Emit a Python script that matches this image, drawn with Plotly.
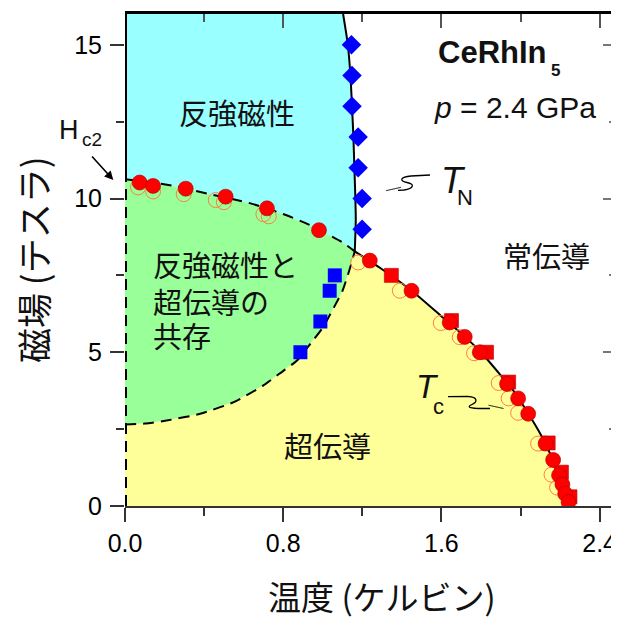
import plotly.graph_objects as go

# ---------------- data ----------------
# Hc2 points (filled red circles) on the AFM/AFM+SC boundary
hc2_T = [0.074, 0.142, 0.307, 0.509, 0.718, 0.981]
hc2_H = [10.52, 10.41, 10.32, 10.06, 9.68, 8.97]
# Tc points (filled red circles)
tc_T = [1.238, 1.449, 1.642, 1.718, 1.794, 1.932, 1.988, 2.039, 2.127, 2.165, 2.195, 2.212, 2.226, 2.243]
tc_H = [7.98, 7.0, 5.97, 5.5, 5.0, 3.97, 3.5, 3.0, 2.03, 1.5, 1.0, 0.7, 0.4, 0.13]
# red squares
sq_T = [1.347, 1.651, 1.828, 1.94, 2.14, 2.207, 2.25]
sq_H = [7.5, 6.03, 5.0, 4.03, 2.05, 1.1, 0.3]
# orange open circles
op_T = [0.066, 0.142, 0.297, 0.459, 0.50, 0.70, 0.727, 1.179, 1.39, 1.597, 1.693, 1.765, 1.89, 1.94, 1.988, 2.089, 2.157, 2.185]
op_H = [10.36, 10.23, 10.14, 9.95, 9.88, 9.49, 9.42, 7.92, 7.0, 5.95, 5.49, 4.97, 4.0, 3.5, 3.03, 2.03, 1.02, 0.6]
# blue squares
bs_T = [0.887, 0.988, 1.035, 1.061]
bs_H = [5.0, 6.0, 7.0, 7.5]
# blue diamonds (T_N)
dm_T = [1.145, 1.148, 1.148, 1.179, 1.179, 1.199, 1.199]
dm_H = [15, 14, 13, 12, 11, 10, 9]

# phase boundaries
hc2_line_T = [0.0, 0.22, 0.43, 0.63, 0.81, 0.93, 1.10, 1.162]
hc2_line_H = [10.63, 10.44, 10.14, 9.85, 9.47, 9.15, 8.57, 8.28]
tn_line_T = [1.162, 1.167, 1.165, 1.16, 1.155, 1.148, 1.14, 1.127, 1.103]
tn_line_H = [8.28, 9.3, 10.0, 11.0, 12.0, 13.0, 14.0, 15.0, 16.0]
sa_line_T = [0.0, 0.1, 0.21, 0.38, 0.55, 0.70, 0.78, 0.87, 0.94, 1.0, 1.06, 1.10, 1.136, 1.162]
sa_line_H = [2.65, 2.68, 2.78, 3.0, 3.38, 3.92, 4.3, 4.73, 5.3, 5.8, 6.5, 7.0, 7.7, 8.28]
tc_line_T = [1.162, 1.30, 1.45, 1.60, 1.72, 1.80, 1.90, 1.97, 2.04, 2.10, 2.15, 2.19, 2.235, 2.27]
tc_line_H = [8.28, 7.7, 7.0, 6.17, 5.5, 5.0, 4.25, 3.7, 3.0, 2.35, 1.7, 1.1, 0.5, 0.0]

x_ticks = [0.0, 0.8, 1.6, 2.4]
x_ticktext = ["0.0", "0.8", "1.6", "2.4"]
y_ticks = [0, 5, 10, 15]

# ---------------- figure ----------------
OFF = 8  # page body margin
W, H = 619 - OFF, 618 - OFF
ML, MR, MT, MB = 125 - OFF, 2, 14 - OFF, 112
PW, PH = W - ML - MR, H - MT - MB


def pp(xp, yp):
    """window pixel position -> paper coordinates (layout placement only)"""
    return (xp - OFF - ML) / PW, (H - MB - (yp - OFF)) / PH


CYAN = "#99FFFF"
GREEN = "#99FF99"
YELLOW = "#FFFF99"

fig = go.Figure()

# region fills
cy_T = [0.0] + hc2_line_T + tn_line_T[1:]
cy_H = [16.0] + hc2_line_H + tn_line_H[1:]
fig.add_trace(go.Scatter(x=cy_T, y=cy_H, fill="toself", fillcolor=CYAN, mode="lines",
                         line=dict(width=0), hoverinfo="skip"))
gr_T = hc2_line_T + sa_line_T[::-1][1:]
gr_H = hc2_line_H + sa_line_H[::-1][1:]
fig.add_trace(go.Scatter(x=gr_T, y=gr_H, fill="toself", fillcolor=GREEN, mode="lines",
                         line=dict(width=0), hoverinfo="skip"))
ye_T = [0.0] + sa_line_T + tc_line_T[1:]
ye_H = [0.0] + sa_line_H + tc_line_H[1:]
fig.add_trace(go.Scatter(x=ye_T, y=ye_H, fill="toself", fillcolor=YELLOW, mode="lines",
                         line=dict(width=0), hoverinfo="skip"))

# boundary lines
DASH = "11px,7px"
fig.add_trace(go.Scatter(x=hc2_line_T, y=hc2_line_H, mode="lines",
                         line=dict(color="black", width=2, dash=DASH, shape="spline", smoothing=0.6)))
fig.add_trace(go.Scatter(x=sa_line_T, y=sa_line_H, mode="lines",
                         line=dict(color="black", width=2, dash=DASH, shape="spline", smoothing=0.6)))
fig.add_trace(go.Scatter(x=tn_line_T, y=tn_line_H, mode="lines",
                         line=dict(color="black", width=2, shape="spline", smoothing=0.6)))
fig.add_trace(go.Scatter(x=tc_line_T, y=tc_line_H, mode="lines",
                         line=dict(color="black", width=2, shape="spline", smoothing=0.6)))
# left edge: dashed below Hc2(0), solid above
fig.add_trace(go.Scatter(x=[0, 0], y=[0, hc2_line_H[0]], mode="lines",
                         line=dict(color="black", width=4, dash=DASH)))
fig.add_trace(go.Scatter(x=[0, 0], y=[hc2_line_H[0], 16], mode="lines",
                         line=dict(color="black", width=4)))

# markers
fig.add_trace(go.Scatter(x=op_T, y=op_H, mode="markers",
                         marker=dict(symbol="circle-open", size=15, color="#FF7F3F", line=dict(width=1))))
fig.add_trace(go.Scatter(x=sq_T, y=sq_H, mode="markers",
                         marker=dict(symbol="square", size=14, color="#FF0000",
                                     line=dict(color="#B00000", width=0.6))))
fig.add_trace(go.Scatter(x=hc2_T + tc_T, y=hc2_H + tc_H, mode="markers",
                         marker=dict(symbol="circle", size=15, color="#FF0000",
                                     line=dict(color="#B00000", width=0.6))))
fig.add_trace(go.Scatter(x=bs_T, y=bs_H, mode="markers",
                         marker=dict(symbol="square", size=14, color="#0000FF", line=dict(width=0))))
fig.add_trace(go.Scatter(x=dm_T, y=dm_H, mode="markers",
                         marker=dict(symbol="diamond", size=15, color="#0000FF", line=dict(width=0))))
# dummy trace for the mirrored (top/right) axes
fig.add_trace(go.Scatter(x=[None], y=[None], xaxis="x2", yaxis="y2", mode="markers", showlegend=False))

TICKFONT = dict(family="Liberation Sans, Arial, sans-serif", size=25, color="black")
CJK = "Noto Sans CJK JP, sans-serif"
LAT = "Liberation Sans, Arial, sans-serif"

fig.update_layout(
    width=W, height=H, showlegend=False,
    margin=dict(l=ML, r=MR, t=MT, b=MB),
    paper_bgcolor="white", plot_bgcolor="white",
    xaxis=dict(range=[0, 2.488], tickvals=x_ticks, ticktext=x_ticktext, ticks="outside",
               ticklen=14, tickwidth=1.5, tickcolor="#333", showline=True, linecolor="#333",
               linewidth=1.5, showgrid=False, zeroline=False, tickfont=TICKFONT,
               minor=dict(tick0=0, dtick=0.4, ticks="outside", ticklen=8, tickwidth=1.5,
                          tickcolor="#333", showgrid=False)),
    yaxis=dict(range=[0, 16], tickvals=y_ticks, ticks="outside", ticklen=14, tickwidth=1.5,
               tickcolor="#333", showline=False, showgrid=False, zeroline=False,
               tickfont=TICKFONT, ticklabelstandoff=3,
               minor=dict(tick0=0, dtick=2.5, ticks="outside", ticklen=8, tickwidth=1.5,
                          tickcolor="#333", showgrid=False)),
    xaxis2=dict(overlaying="x", side="top", range=[0, 2.488], tickvals=x_ticks, ticks="inside",
                ticklen=14, tickwidth=1.5, tickcolor="#555", showticklabels=False,
                showline=True, linecolor="black", linewidth=2.5, showgrid=False, zeroline=False,
                minor=dict(tick0=0, dtick=0.4, ticks="inside", ticklen=8, tickwidth=1.5,
                           tickcolor="#555", showgrid=False)),
    yaxis2=dict(overlaying="y", side="right", range=[0, 16], tickvals=y_ticks, ticks="inside",
                ticklen=14, tickwidth=1.5, tickcolor="#777", showticklabels=False,
                showline=True, linecolor="#999", linewidth=1, showgrid=False, zeroline=False,
                minor=dict(tick0=0, dtick=2.5, ticks="inside", ticklen=8, tickwidth=1.5,
                           tickcolor="#777", showgrid=False)),
)


def ann(text, xp, yp, size, family=CJK, xanchor="center", **kw):
    x, y = pp(xp, yp)
    fig.add_annotation(text=text, x=x, y=y, xref="paper", yref="paper", showarrow=False,
                       xanchor=xanchor, yanchor="middle", font=dict(family=family, size=size,
                                                                    color="#111"), **kw)


# axis titles
ann("温度 (ケルビン)", 382, 596, 33)
ann("磁場 (テスラ)", 32, 260, 35, textangle=-90)

# region labels
ann("反強磁性", 237, 112, 29)
ann("反強磁性と", 151, 264, 29, xanchor="left")
ann("超伝導の", 151, 301, 29, xanchor="left")
ann("共存", 151, 335, 29, xanchor="left")
ann("常伝導", 546, 255, 29)
ann("超伝導", 327, 445, 29)

# title-like labels
ann("<b>CeRhIn</b>", 549, 52, 31, family=LAT, xanchor="right")
ann("<b>5</b>", 549, 71, 17, family=LAT, xanchor="left")
ann("<i>p</i> = 2.4 GPa", 515, 108, 30, family=LAT)

ann("<i>T</i>", 453, 180, 36, family=LAT)
ann("N", 465, 197, 22, family=LAT)
ann("<i>T</i>", 427, 387, 33, family=LAT)
ann("c", 438, 406, 22, family=LAT)
ann("H", 69, 130, 27, family=LAT)
ann("c2", 92, 139, 19, family=LAT)

# Hc2 arrow
hx, hy = pp(113.3, 180)
fig.add_annotation(text="", x=hx, y=hy, xref="paper", yref="paper", showarrow=True,
                   ax=-22.6, ay=-25, arrowhead=2, arrowsize=1.1, arrowwidth=1.6, arrowcolor="black")


def path(points, close=False):
    s = ""
    for cmd, pts in points:
        s += cmd + " " + " ".join("%.5f,%.5f" % pp(a, b) for a, b in pts) + " "
    if close:
        s += "Z"
    return s


# T_N squiggle + head
fig.add_shape(type="path", xref="paper", yref="paper", line=dict(color="black", width=1.3),
              path=path([("M", [(430, 175)]), ("L", [(411, 176)]),
                         ("C", [(400, 177), (399, 181), (407, 182.5)]),
                         ("C", [(415, 184), (414, 188.5), (404, 190)]),
                         ("L", [(398, 190.4)])]))
fig.add_shape(type="path", xref="paper", yref="paper", line=dict(color="black", width=0.5),
              fillcolor="black",
              path=path([("M", [(386, 190.7)]), ("L", [(401, 187.3), (401, 193.7)])], close=True))
# T_c squiggle + head
fig.add_shape(type="path", xref="paper", yref="paper", line=dict(color="black", width=1.3),
              path=path([("M", [(448, 396.7)]), ("L", [(468, 396.5)]),
                         ("C", [(478, 397), (478, 402), (471, 405)]),
                         ("C", [(466, 407.5), (472, 408.5), (480, 408.5)]),
                         ("L", [(490, 408.5)])]))
fig.add_shape(type="path", xref="paper", yref="paper", line=dict(color="black", width=0.5),
              fillcolor="black",
              path=path([("M", [(503.5, 408.5)]), ("L", [(488.5, 405.2), (488.5, 411.8)])], close=True))

fig.write_html("out.html")
